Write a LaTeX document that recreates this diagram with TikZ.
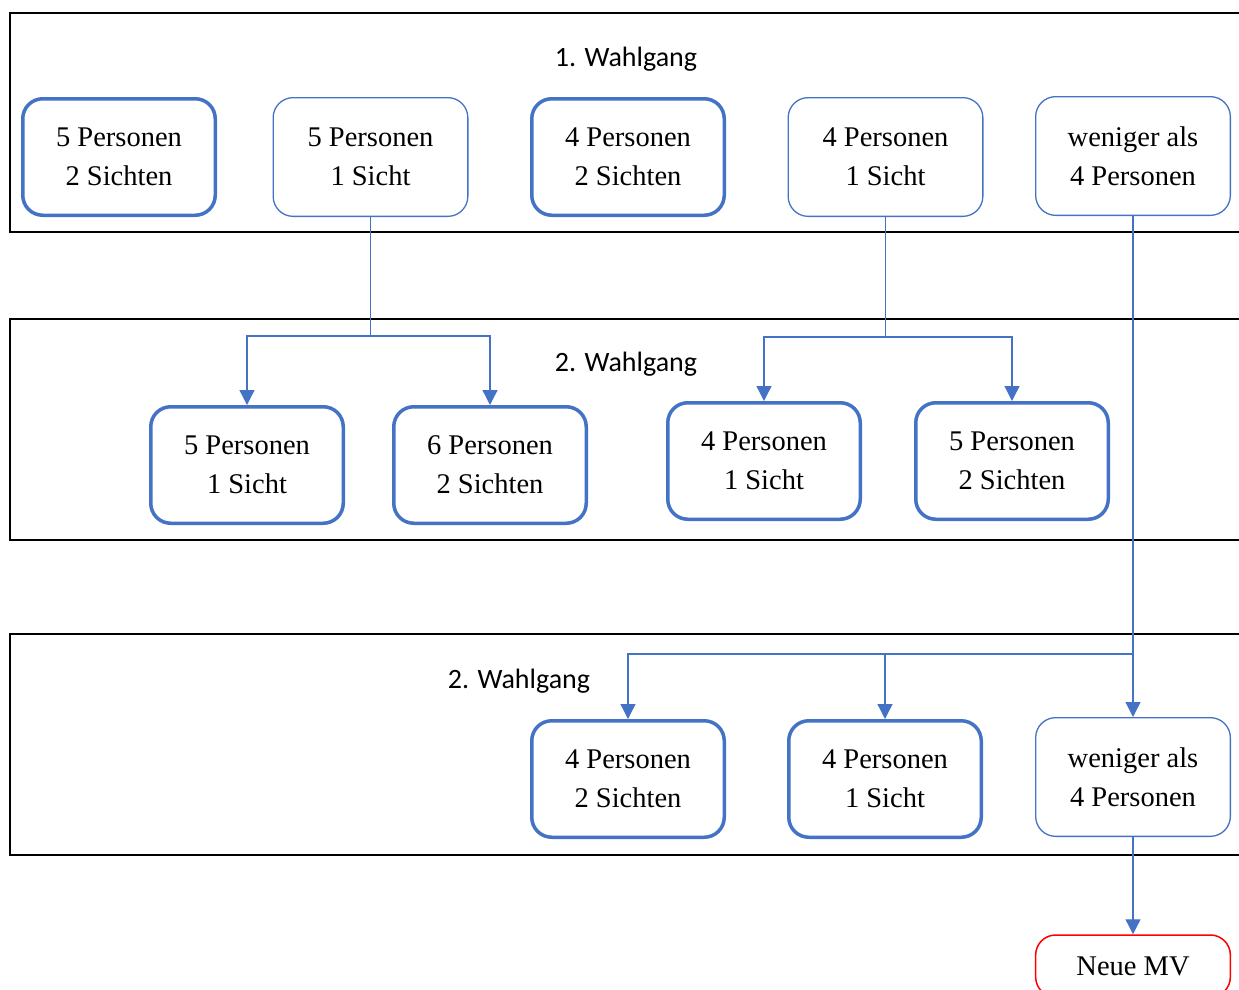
\documentclass[tikz,border=0pt]{standalone}
\usepackage{fontspec}
\setmainfont{Liberation Serif}
\newfontfamily\timesfont{Liberation Serif}
\newfontfamily\calibri{Carlito}
\usetikzlibrary{arrows.meta}
\definecolor{wordblue}{HTML}{4472C4}
\definecolor{wordred}{HTML}{FF0000}

\begin{document}
\begin{tikzpicture}[
    x=1pt, y=-1pt,
    frame/.style={draw=black, line width=2pt},
    box/.style={draw=wordblue, rectangle, rounded corners=20pt, line width=1.3pt, minimum width=194.7pt, minimum height=118.7pt, inner sep=0pt, align=center, font=\timesfont\fontsize{28.5}{39}\selectfont, fill=white},
    boxthick/.style={box, line width=3.5pt, minimum width=192.5pt, minimum height=116.5pt},
    endbox/.style={box, draw=wordred, line width=1.5pt, minimum height=62pt},
    roundlabel/.style={font=\calibri\fontsize{28}{34}\selectfont},
    wire/.style={wordblue, line width=1.3pt},
    arrow/.style={wire, -{Triangle[length=15pt, width=15pt]}}
]
    \useasboundingbox (0,0) rectangle (1239,990);
    \clip (0,0) rectangle (1239,990);

    \draw[frame] (10,13) rectangle (1260,232);
    \draw[frame] (10,319) rectangle (1260,540);
    \draw[frame] (10,634) rectangle (1260,855);

    \node[roundlabel] (round1) at (626,59) {1. Wahlgang};
    \node[roundlabel] (round2) at (626,364) {2. Wahlgang};
    \node[roundlabel] (round3) at (519,681) {2. Wahlgang};

    \node[boxthick] (a) at (119,157) {5 Personen\\2 Sichten};
    \node[box] (b) at (370.5,157) {5 Personen\\1 Sicht};
    \node[boxthick] (c) at (628,157) {4 Personen\\2 Sichten};
    \node[box] (d) at (885.5,157) {4 Personen\\1 Sicht};
    \node[box] (e) at (1133,156) {weniger als\\4 Personen};

    \node[boxthick] (f) at (247,465) {5 Personen\\1 Sicht};
    \node[boxthick] (g) at (490,465) {6 Personen\\2 Sichten};
    \node[boxthick] (h) at (764,461) {4 Personen\\1 Sicht};
    \node[boxthick] (i) at (1012,461) {5 Personen\\2 Sichten};

    \node[boxthick] (j) at (628,779) {4 Personen\\2 Sichten};
    \node[boxthick] (k) at (885,779) {4 Personen\\1 Sicht};
    \node[box] (l) at (1133,777) {weniger als\\4 Personen};

    \node[endbox] (m) at (1133,966) {Neue MV};

    \coordinate (splitb) at (b.south |- 0,336);
    \coordinate (splitd) at (d.south |- 0,337);
    \coordinate (splite) at (e.south |- 0,654);

    \draw[wire] (b.south) -- (splitb);
    \draw[arrow] (splitb) -| (f.north);
    \draw[arrow] (splitb) -| (g.north);

    \draw[wire] (d.south) -- (splitd);
    \draw[arrow] (splitd) -| (h.north);
    \draw[arrow] (splitd) -| (i.north);

    \draw[arrow] (e.south) -- (l.north);
    \draw[arrow] (splite) -| (j.north);
    \draw[arrow] (splite) -| (k.north);

    \draw[arrow] (l.south) -- (m.north);

\end{tikzpicture}
\end{document}
